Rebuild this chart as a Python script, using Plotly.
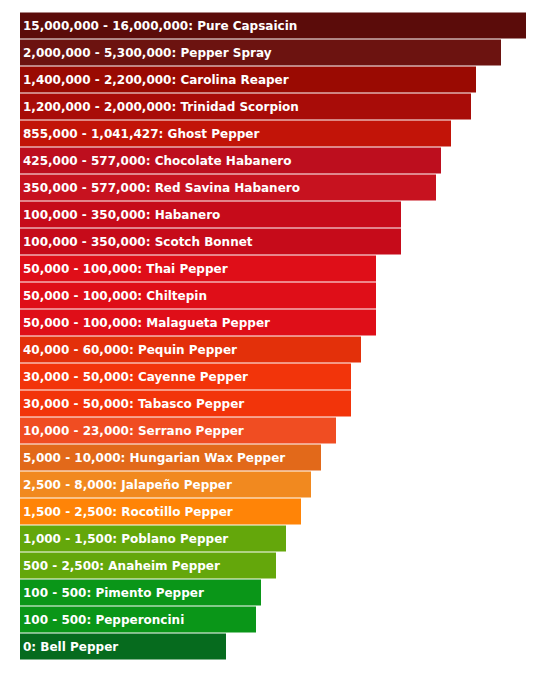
import plotly.graph_objects as go

peppers = ["Pure Capsaicin", "Pepper Spray", "Carolina Reaper", "Trinidad Scorpion",
           "Ghost Pepper", "Chocolate Habanero", "Red Savina Habanero", "Habanero",
           "Scotch Bonnet", "Thai Pepper", "Chiltepin", "Malagueta Pepper",
           "Pequin Pepper", "Cayenne Pepper", "Tabasco Pepper", "Serrano Pepper",
           "Hungarian Wax Pepper", "Jalapeño Pepper", "Rocotillo Pepper", "Poblano Pepper",
           "Anaheim Pepper", "Pimento Pepper", "Pepperoncini", "Bell Pepper"]

shu_ranges = ["15,000,000 - 16,000,000", "2,000,000 - 5,300,000", "1,400,000 - 2,200,000",
              "1,200,000 - 2,000,000", "855,000 - 1,041,427", "425,000 - 577,000",
              "350,000 - 577,000", "100,000 - 350,000", "100,000 - 350,000",
              "50,000 - 100,000", "50,000 - 100,000", "50,000 - 100,000",
              "40,000 - 60,000", "30,000 - 50,000", "30,000 - 50,000",
              "10,000 - 23,000", "5,000 - 10,000", "2,500 - 8,000",
              "1,500 - 2,500", "1,000 - 1,500", "500 - 2,500",
              "100 - 500", "100 - 500", "0"]

heat_scores = [506, 481, 456, 451, 431, 421, 416, 381, 381, 356, 356, 356,
               341, 331, 331, 316, 301, 291, 281, 266, 256, 241, 236, 206]

bar_colors = ["#5b0c0a", "#6c1310", "#9a0a02", "#a80c08", "#c21408", "#bd0e1e",
              "#c7121f", "#c60b1a", "#c60b1a", "#df0e18", "#df0e18", "#df0e18",
              "#e3300a", "#f2340a", "#f2340a", "#f04d22", "#e2691a", "#f1891f",
              "#ff8407", "#64a70b", "#64a70b", "#0a9618", "#0a9618", "#066b1e"]

labels = [f"{r}: {p}" for r, p in zip(shu_ranges, peppers)]

fig = go.Figure(go.Bar(
    x=heat_scores,
    y=peppers,
    orientation="h",
    marker=dict(color=bar_colors, line=dict(width=0)),
    text=labels,
    textposition="inside",
    insidetextanchor="start",
    textangle=0,
    textfont=dict(family="DejaVu Sans", size=12, color="white", weight="bold"),
    hoverinfo="skip",
))

fig.update_layout(
    width=523, height=659,
    margin=dict(l=12, r=0, t=4, b=7),
    paper_bgcolor="white", plot_bgcolor="white",
    bargap=1/27,
    showlegend=False,
)
fig.update_xaxes(range=[0, 511], visible=False, fixedrange=True)
fig.update_yaxes(autorange="reversed", visible=False, fixedrange=True)

fig.write_html("out.html", config={"displayModeBar": False})
